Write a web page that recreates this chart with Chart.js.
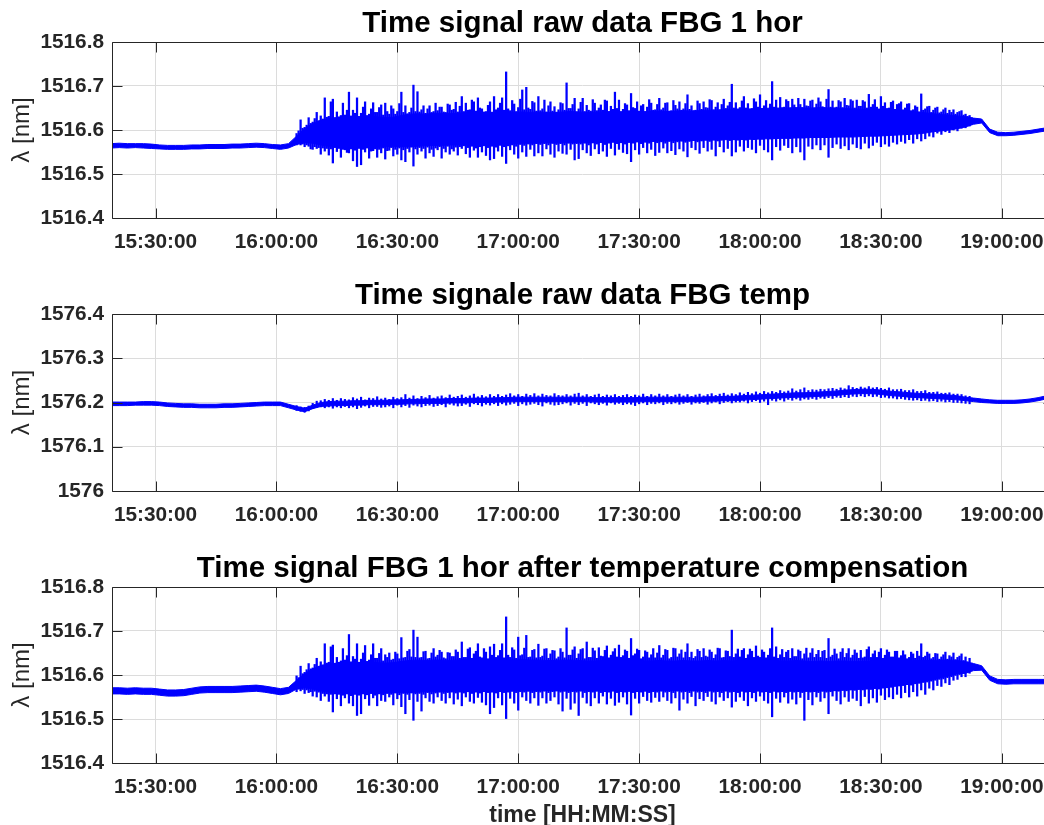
<!DOCTYPE html>
<html>
<head>
<meta charset="utf-8">
<title>FBG time signals</title>
<script src="https://cdn.jsdelivr.net/npm/chart.js@4.4.1/dist/chart.umd.min.js"></script>
<style>
  html, body { margin: 0; padding: 0; background: #fff; }
  body { width: 1044px; height: 825px; overflow: hidden; position: relative; }
  canvas { position: absolute; left: 0; }
</style>
</head>
<body>
<canvas id="hor" width="1060" height="272" style="top:0"></canvas>
<canvas id="temp" width="1060" height="273" style="top:272px"></canvas>
<canvas id="comp" width="1060" height="290" style="top:545px"></canvas>
<script>
// time axis, minutes after midnight
const X_MIN = 919.2, X_MAX = 1152.7;
const TIME_TICKS = [930, 960, 990, 1020, 1050, 1080, 1110, 1140];
const TIME_LABELS = ['15:30:00', '16:00:00', '16:30:00', '17:00:00', '17:30:00', '18:00:00', '18:30:00', '19:00:00'];

const HOR_TICKS = [1516.4, 1516.5, 1516.6, 1516.7, 1516.8];
const TEMP_TICKS = [1576, 1576.1, 1576.2, 1576.3, 1576.4];

// dense trace envelope (upper / lower edge of the solid band), one value every 2 min from 15:19
const BAND_START = 919, BAND_STEP = 2;
// min / max of the samples while the rig is running, from 16:05
const PEAK_START = 965;
const HOR_PEAK_STEP = 0.5;   // half-minute bins for the FBG 1 hor traces
const TEMP_PEAK_STEP = 1;    // one-minute bins for the temperature grating

// all wavelengths below are pm above the base wavelength of the grating

// FBG 1 hor, raw (base 1516 nm)
const horHi = [
  569, 570, 569, 569, 569, 568, 566, 565, 565, 565,
  566, 566, 567, 567, 567, 568, 568, 569, 570, 569,
  567, 566, 569, 586, 603, 615, 622, 626, 628, 630,
  630, 629, 631, 630, 628, 629, 633, 636, 637, 636,
  638, 638, 637, 638, 640, 640, 639, 640, 641, 640,
  640, 641, 640, 641, 640, 640, 641, 642, 641, 640,
  640, 641, 642, 641, 640, 640, 641, 642, 643, 642,
  643, 644, 643, 644, 645, 645, 646, 646, 647, 647,
  648, 649, 650, 649, 650, 651, 650, 650, 651, 650,
  650, 649, 648, 647, 646, 645, 644, 643, 642, 642,
  641, 639, 637, 635, 634, 632, 630, 627, 625, 602,
  595, 594, 595, 597, 599, 602, 605
];
const horLo = [
  559, 560, 559, 560, 559, 558, 557, 556, 556, 556,
  557, 557, 558, 558, 558, 559, 559, 560, 561, 560,
  558, 556, 559, 567, 571, 570, 566, 563, 562, 561,
  560, 561, 562, 561, 562, 563, 562, 562, 563, 564,
  565, 565, 566, 566, 566, 567, 567, 566, 567, 568,
  569, 570, 570, 570, 571, 570, 571, 571, 572, 571,
  571, 572, 573, 573, 572, 573, 574, 574, 575, 575,
  576, 575, 576, 577, 577, 577, 578, 578, 578, 579,
  579, 580, 580, 581, 581, 582, 582, 583, 583, 583,
  584, 584, 584, 585, 586, 586, 587, 588, 589, 590,
  591, 593, 596, 598, 600, 603, 607, 613, 616, 594,
  587, 587, 588, 590, 592, 595, 598
];
// half-minute maxima / minima, one row = 10 minutes
const horPeakHi = [
  592, 598, 623, 604, 606, 611, 628, 615, 618, 626, 640, 621, 632, 625, 673, 629, 631, 664, 670, 628,
  641, 630, 633, 661, 634, 645, 686, 632, 645, 638, 673, 631, 638, 652, 664, 633, 636, 648, 662, 640,
  640, 651, 657, 634, 661, 642, 636, 655, 648, 636, 642, 660, 686, 640, 655, 637, 640, 650, 702, 642,
  687, 641, 646, 655, 638, 648, 655, 640, 642, 661, 644, 652, 652, 641, 640, 659, 657, 645, 647, 663,
  641, 654, 676, 642, 661, 645, 646, 668, 664, 643, 673, 650, 648, 641, 642, 656, 664, 640, 676, 646,
  650, 661, 673, 645, 732, 648, 644, 667, 659, 642, 651, 670, 691, 646, 697, 650, 647, 665, 662, 643,
  676, 644, 648, 668, 641, 655, 664, 643, 653, 640, 646, 662, 660, 645, 707, 649, 649, 658, 672, 641,
  648, 663, 672, 642, 656, 645, 643, 669, 661, 644, 650, 657, 645, 668, 666, 641, 654, 647, 686, 649,
  668, 642, 647, 660, 657, 644, 683, 651, 649, 664, 643, 655, 658, 642, 652, 669, 661, 645, 646, 658,
  672, 646, 650, 661, 662, 643, 644, 667, 656, 648, 664, 645, 648, 660, 680, 647, 655, 644, 645, 666,
  660, 647, 664, 651, 650, 669, 667, 646, 652, 662, 646, 658, 670, 649, 655, 663, 704, 650, 662, 648,
  651, 666, 676, 650, 660, 648, 649, 671, 664, 652, 680, 649, 655, 667, 648, 659, 710, 652, 668, 650,
  674, 651, 652, 669, 665, 650, 670, 657, 650, 672, 658, 651, 670, 655, 654, 666, 668, 650, 659, 673,
  664, 653, 651, 670, 692, 652, 666, 650, 652, 667, 664, 651, 672, 656, 655, 669, 666, 650, 668, 654,
  654, 667, 664, 650, 681, 652, 658, 669, 652, 648, 676, 654, 662, 649, 650, 663, 666, 647, 658, 660,
  664, 646, 650, 659, 660, 644, 646, 655, 652, 641, 682, 645, 648, 653, 654, 640, 645, 650, 652, 639,
  641, 646, 650, 638, 645, 640, 646, 636, 640, 642, 644, 634, 636, 631, 633, 628
];
const horPeakLo = [
  566, 570, 566, 568, 562, 566, 563, 557, 556, 562, 558, 560, 545, 559, 552, 558, 543, 557, 525, 560,
  551, 558, 538, 556, 555, 549, 548, 557, 530, 554, 517, 558, 521, 556, 550, 559, 536, 552, 553, 557,
  538, 556, 548, 559, 534, 553, 554, 560, 541, 556, 545, 559, 532, 555, 528, 558, 550, 561, 518, 557,
  545, 560, 552, 558, 536, 561, 548, 556, 540, 559, 555, 562, 536, 558, 550, 563, 545, 557, 552, 561,
  543, 562, 558, 564, 546, 560, 538, 563, 554, 559, 538, 562, 550, 564, 542, 560, 532, 563, 535, 561,
  552, 565, 540, 562, 524, 564, 555, 566, 545, 563, 536, 567, 550, 565, 540, 568, 556, 566, 541, 569,
  548, 567, 541, 569, 557, 566, 545, 570, 538, 567, 552, 569, 547, 566, 545, 570, 556, 568, 532, 569,
  535, 568, 555, 570, 548, 566, 542, 571, 557, 568, 546, 572, 552, 567, 540, 570, 558, 572, 543, 569,
  556, 571, 549, 568, 546, 572, 528, 570, 555, 573, 545, 569, 560, 572, 548, 570, 556, 574, 542, 571,
  549, 573, 559, 570, 548, 574, 553, 571, 544, 573, 557, 575, 552, 572, 539, 574, 560, 576, 555, 573,
  547, 575, 560, 577, 552, 574, 556, 578, 541, 575, 562, 577, 550, 579, 558, 576, 541, 578, 550, 577,
  563, 579, 552, 577, 560, 580, 556, 578, 548, 581, 565, 579, 555, 582, 550, 580, 532, 581, 562, 583,
  554, 582, 565, 584, 560, 581, 548, 583, 562, 585, 550, 582, 532, 584, 563, 586, 557, 583, 566, 585,
  555, 586, 566, 584, 538, 587, 560, 585, 568, 588, 558, 586, 564, 589, 555, 587, 568, 590, 560, 588,
  557, 589, 570, 591, 559, 588, 565, 590, 572, 592, 562, 589, 568, 591, 563, 593, 572, 590, 568, 592,
  574, 593, 570, 591, 578, 594, 570, 592, 580, 596, 575, 594, 580, 597, 586, 598, 584, 600, 593, 601,
  590, 602, 596, 604, 594, 603, 600, 606, 598, 607, 604, 609, 605, 611, 609, 613
];

// FBG temp, raw (base 1576 nm)
const tempHi = [
  201, 201, 201, 201, 202, 202, 201, 199, 198, 197,
  197, 196, 196, 196, 197, 197, 198, 199, 200, 201,
  201, 201, 196, 191, 187, 194, 200, 202, 203, 203,
  204, 204, 205, 205, 205, 206, 206, 207, 207, 208,
  208, 208, 209, 209, 209, 210, 210, 210, 211, 211,
  212, 212, 212, 212, 212, 212, 212, 212, 212, 212,
  211, 211, 211, 211, 211, 211, 212, 212, 212, 212,
  212, 212, 212, 212, 213, 213, 214, 214, 215, 216,
  217, 218, 219, 220, 221, 222, 222, 223, 224, 225,
  226, 228, 229, 230, 230, 229, 227, 225, 224, 222,
  221, 220, 219, 218, 217, 215, 212, 210, 208, 206,
  205, 205, 205, 206, 208, 211, 215
];
const tempLo = [
  193, 193, 193, 194, 194, 194, 193, 191, 190, 189,
  189, 188, 188, 188, 189, 189, 190, 191, 192, 193,
  193, 193, 188, 183, 179, 186, 191, 192, 193, 193,
  194, 194, 195, 195, 195, 196, 196, 197, 197, 198,
  198, 198, 199, 199, 199, 200, 200, 200, 201, 201,
  202, 202, 202, 202, 202, 202, 202, 202, 202, 202,
  201, 201, 201, 201, 201, 201, 202, 202, 202, 202,
  202, 202, 202, 202, 203, 203, 204, 204, 205, 206,
  207, 208, 209, 210, 211, 212, 212, 213, 214, 215,
  216, 218, 219, 220, 220, 219, 217, 215, 214, 212,
  211, 210, 209, 208, 207, 206, 204, 202, 200, 199,
  198, 198, 198, 199, 201, 204, 208
];
const tempPeakHi = [
  193, 190, 189, 192, 198, 203, 204, 207, 205, 209,
  205, 209, 207, 206, 211, 208, 212, 206, 210, 209,
  213, 208, 210, 207, 212, 209, 211, 218, 210, 215,
  209, 214, 211, 216, 210, 213, 215, 211, 217, 212,
  214, 217, 212, 215, 219, 213, 216, 213, 218, 214,
  218, 214, 217, 220, 215, 218, 214, 219, 216, 220,
  215, 219, 216, 215, 220, 216, 215, 218, 215, 219,
  221, 215, 218, 214, 217, 219, 214, 217, 215, 218,
  214, 216, 218, 214, 217, 215, 219, 214, 218, 215,
  219, 215, 218, 214, 217, 219, 215, 218, 214, 217,
  219, 215, 218, 220, 216, 219, 221, 217, 220, 218,
  222, 219, 223, 220, 224, 221, 225, 222, 225, 223,
  227, 224, 226, 231, 226, 229, 233, 227, 229, 228,
  230, 229, 231, 232, 230, 233, 231, 238, 234, 232,
  235, 233, 236, 233, 234, 232, 230, 233, 229, 229,
  230, 227, 227, 229, 225, 225, 227, 223, 223, 224,
  221, 221, 222, 219, 219, 218, 215, 214
];
const tempPeakLo = [
  182, 180, 178, 181, 186, 189, 190, 188, 190, 187,
  190, 188, 191, 188, 190, 186, 189, 192, 188, 191,
  191, 189, 190, 192, 188, 194, 190, 193, 189, 194,
  192, 190, 193, 194, 191, 193, 195, 190, 196, 194,
  192, 193, 196, 191, 197, 195, 192, 196, 194, 197,
  193, 197, 194, 196, 198, 193, 197, 194, 196, 198,
  195, 192, 199, 196, 194, 195, 197, 199, 194, 198,
  195, 198, 193, 199, 197, 195, 198, 194, 199, 196,
  198, 195, 197, 196, 193, 197, 199, 195, 198, 197,
  199, 195, 198, 197, 199, 196, 198, 200, 196, 199,
  198, 200, 196, 199, 201, 197, 200, 202, 199, 201,
  201, 203, 199, 202, 204, 200, 203, 195, 205, 203,
  206, 203, 207, 205, 208, 205, 208, 207, 209, 207,
  210, 209, 211, 209, 212, 211, 213, 211, 214, 213,
  215, 213, 215, 213, 214, 211, 212, 210, 210, 208,
  209, 207, 206, 205, 206, 204, 205, 203, 204, 202,
  203, 201, 202, 200, 200, 199, 198, 197
];

// FBG 1 hor after temperature compensation (base 1516 nm)
const compHi = [
  571, 571, 570, 571, 570, 570, 568, 566, 566, 567,
  570, 573, 574, 574, 574, 574, 575, 576, 577, 575,
  572, 569, 572, 588, 603, 614, 621, 625, 627, 628,
  628, 627, 629, 628, 627, 628, 631, 633, 634, 633,
  634, 634, 633, 634, 635, 635, 634, 635, 635, 634,
  634, 635, 634, 634, 633, 633, 634, 634, 633, 632,
  632, 633, 633, 632, 631, 631, 632, 632, 633, 632,
  632, 633, 632, 632, 633, 632, 633, 632, 633, 632,
  633, 633, 633, 632, 632, 633, 632, 631, 632, 631,
  632, 632, 631, 631, 631, 631, 631, 631, 631, 632,
  633, 633, 633, 634, 634, 633, 630, 626, 621, 598,
  590, 589, 590, 590, 590, 590, 590
];
const compLo = [
  557, 557, 556, 557, 556, 556, 554, 552, 552, 553,
  556, 559, 560, 560, 560, 560, 561, 562, 563, 561,
  558, 555, 558, 568, 571, 568, 564, 561, 559, 558,
  557, 558, 559, 558, 559, 560, 560, 560, 561, 562,
  562, 562, 563, 563, 562, 563, 563, 562, 563, 563,
  564, 564, 564, 564, 565, 564, 564, 564, 565, 564,
  564, 565, 565, 564, 563, 564, 564, 564, 565, 565,
  565, 564, 565, 565, 565, 564, 565, 565, 564, 565,
  565, 564, 564, 564, 563, 564, 563, 563, 564, 564,
  565, 566, 567, 568, 569, 571, 573, 575, 577, 580,
  582, 586, 590, 594, 598, 603, 604, 610, 611, 588,
  580, 579, 580, 580, 580, 580, 580
];
const compPeakHi = [
  598, 594, 620, 603, 606, 612, 626, 614, 616, 624, 638, 620, 630, 623, 671, 627, 629, 664, 668, 626,
  640, 629, 632, 660, 634, 644, 692, 630, 642, 636, 671, 629, 636, 650, 667, 631, 634, 646, 671, 638,
  638, 649, 660, 632, 646, 640, 650, 634, 636, 652, 648, 637, 685, 639, 640, 654, 658, 641, 702, 640,
  686, 639, 640, 653, 654, 637, 638, 650, 660, 641, 645, 656, 652, 639, 637, 651, 650, 642, 642, 657,
  652, 638, 675, 640, 640, 659, 662, 638, 648, 654, 671, 641, 639, 660, 652, 637, 664, 645, 670, 640,
  644, 656, 671, 639, 732, 645, 640, 662, 657, 638, 686, 644, 646, 661, 690, 640, 641, 656, 658, 639,
  670, 640, 643, 659, 660, 638, 648, 656, 655, 637, 641, 660, 652, 639, 707, 645, 645, 657, 664, 638,
  648, 658, 660, 637, 675, 640, 640, 661, 655, 638, 662, 643, 642, 656, 666, 639, 645, 653, 660, 641,
  668, 640, 644, 657, 654, 638, 683, 644, 648, 659, 656, 637, 641, 655, 652, 639, 646, 660, 639, 650,
  667, 639, 645, 658, 656, 637, 640, 661, 660, 641, 648, 657, 639, 652, 671, 640, 652, 638, 642, 658,
  654, 640, 660, 643, 641, 657, 652, 638, 646, 661, 660, 639, 640, 655, 654, 642, 702, 640, 648, 659,
  641, 656, 660, 638, 646, 659, 654, 640, 666, 643, 640, 657, 652, 639, 645, 660, 707, 641, 664, 638,
  646, 658, 640, 652, 656, 638, 660, 642, 642, 657, 654, 637, 648, 661, 639, 650, 660, 640, 647, 656,
  640, 654, 656, 638, 683, 641, 645, 659, 648, 637, 652, 660, 640, 649, 660, 639, 645, 657, 650, 638,
  656, 639, 641, 658, 664, 640, 648, 655, 640, 652, 660, 638, 645, 657, 652, 641, 641, 654, 654, 639,
  644, 655, 646, 637, 640, 652, 648, 638, 654, 643, 671, 640, 643, 652, 648, 637, 640, 649, 648, 636,
  641, 646, 652, 636, 644, 641, 650, 635, 640, 643, 648, 633, 641, 630, 638, 627
];
const compPeakLo = [
  562, 568, 564, 567, 558, 566, 560, 562, 552, 563, 550, 561, 542, 558, 552, 557, 540, 556, 516, 557,
  546, 556, 530, 554, 548, 557, 536, 553, 530, 556, 508, 554, 512, 557, 546, 555, 531, 558, 548, 554,
  530, 557, 542, 555, 540, 558, 550, 556, 532, 559, 546, 555, 528, 558, 512, 556, 544, 559, 497, 557,
  540, 558, 518, 556, 548, 560, 540, 557, 536, 559, 550, 561, 542, 558, 536, 560, 548, 561, 534, 559,
  545, 561, 530, 559, 550, 562, 540, 558, 536, 561, 549, 559, 538, 562, 532, 560, 512, 561, 526, 559,
  548, 562, 532, 560, 501, 561, 547, 563, 536, 560, 520, 562, 550, 561, 542, 563, 536, 560, 548, 562,
  531, 561, 548, 563, 536, 560, 542, 562, 550, 564, 534, 561, 518, 563, 547, 560, 522, 562, 536, 561,
  508, 563, 549, 560, 536, 562, 530, 561, 548, 563, 536, 560, 552, 562, 534, 561, 547, 563, 531, 560,
  538, 562, 550, 561, 534, 563, 509, 560, 547, 562, 536, 561, 551, 563, 542, 560, 538, 562, 549, 561,
  540, 563, 550, 561, 542, 562, 536, 560, 548, 563, 520, 561, 545, 562, 536, 560, 551, 563, 530, 561,
  546, 562, 542, 560, 551, 563, 540, 561, 534, 562, 550, 560, 542, 563, 548, 561, 527, 562, 540, 560,
  550, 563, 542, 561, 530, 562, 548, 560, 540, 563, 552, 561, 542, 562, 536, 560, 505, 563, 547, 561,
  538, 562, 550, 560, 536, 563, 545, 561, 534, 562, 549, 560, 497, 563, 544, 561, 532, 562, 550, 560,
  540, 563, 548, 561, 512, 562, 552, 564, 542, 563, 534, 565, 550, 564, 540, 566, 547, 565, 542, 567,
  530, 566, 551, 568, 536, 567, 548, 569, 538, 568, 554, 570, 544, 571, 550, 572, 546, 574, 556, 575,
  548, 576, 560, 578, 550, 577, 562, 580, 552, 581, 566, 583, 556, 584, 570, 586, 566, 588, 576, 590,
  574, 591, 582, 594, 578, 596, 588, 599, 590, 601, 596, 604, 596, 606, 604, 610
];

const FONT = "'Liberation Sans', Arial, Helvetica, sans-serif";
const BLUE = '#0000ff';
const INK = '#262626';
const GRID = '#dcdcdc';
Chart.defaults.font.family = FONT;

// MATLAB-style box: full frame plus inward tick marks on all four sides
const boxTicks = {
  id: 'boxTicks',
  afterDraw(chart) {
    const { ctx, chartArea: a, scales: { x, y } } = chart;
    const len = 10;
    const L = Math.round(a.left) + 0.5, R = Math.round(a.right) + 0.5;
    const T = Math.round(a.top) + 0.5, B = Math.round(a.bottom) + 0.5;
    ctx.save();
    ctx.strokeStyle = INK;
    ctx.lineWidth = 1;
    ctx.beginPath();
    x.ticks.forEach(t => {
      const px = Math.round(x.getPixelForValue(t.value)) + 0.5;
      ctx.moveTo(px, T); ctx.lineTo(px, T + len);
      ctx.moveTo(px, B); ctx.lineTo(px, B - len);
    });
    y.ticks.forEach(t => {
      const py = Math.round(y.getPixelForValue(t.value)) + 0.5;
      ctx.moveTo(L, py); ctx.lineTo(L + len, py);
      ctx.moveTo(R, py); ctx.lineTo(R - len, py);
    });
    ctx.rect(L, T, R - L, B - T);
    ctx.stroke();
    ctx.restore();
  }
};

function drawPanel(id, p) {
  const nm = v => p.base + v / 1000;
  const band = arr => arr.map((v, i) => ({ x: BAND_START + i * BAND_STEP, y: nm(v) }));
  const peaks = p.peakHi.map((v, i) => ({ x: PEAK_START + i * p.peakStep, y: [nm(p.peakLo[i]), nm(v)] }));

  new Chart(document.getElementById(id), {
    type: 'line',
    data: {
      datasets: [
        { type: 'bar', data: peaks, backgroundColor: BLUE, borderWidth: 0, barThickness: p.barWidth },
        { data: band(p.hi), borderColor: BLUE, backgroundColor: BLUE, borderWidth: 1,
          pointRadius: 0, tension: 0, fill: '+1' },
        { data: band(p.lo), borderColor: BLUE, borderWidth: 1, pointRadius: 0, tension: 0, fill: false }
      ]
    },
    options: {
      responsive: false,
      animation: false,
      devicePixelRatio: 1,
      events: [],
      layout: { padding: { left: 0, right: 7, top: 0, bottom: 0 } },
      plugins: {
        legend: { display: false },
        tooltip: { enabled: false },
        title: {
          display: true, text: p.title, color: '#000', fullSize: false,
          font: { size: 29.5, weight: 'bold', lineHeight: 1.2 },
          padding: { top: 6.6, bottom: 0 }
        }
      },
      scales: {
        x: {
          type: 'linear', min: X_MIN, max: X_MAX, offset: false,
          afterBuildTicks: s => { s.ticks = TIME_TICKS.map(v => ({ value: v })); },
          afterFit: s => { s.height = p.xHeight; },
          grid: { color: GRID, lineWidth: 1, drawTicks: false, offset: false },
          border: { display: false },
          ticks: {
            color: INK, padding: 12, maxRotation: 0, autoSkip: false,
            font: { size: 20.8, weight: 'bold' },
            callback: (v, i) => TIME_LABELS[i]
          },
          title: p.xTitle ? {
            display: true, text: p.xTitle, color: INK,
            font: { size: 23, weight: 'bold', lineHeight: 1.2 },
            padding: { top: 0, bottom: 6 }
          } : { display: false }
        },
        y: {
          min: p.ticks[0], max: p.ticks[p.ticks.length - 1],
          afterBuildTicks: s => { s.ticks = p.ticks.map(v => ({ value: v })); },
          afterFit: s => { s.width = 112; },
          grid: { color: GRID, lineWidth: 1, drawTicks: false },
          border: { display: false },
          ticks: {
            color: INK, padding: 8,
            font: { size: 20.8, weight: 'bold' },
            callback: v => String(v)
          },
          title: {
            display: true, text: 'λ [nm]', color: INK,
            font: { size: 24, weight: 'normal', lineHeight: 1.2 },
            padding: { top: 7.5, bottom: 0 }
          }
        }
      }
    },
    plugins: [boxTicks]
  });
}

drawPanel('hor', {
  title: 'Time signal raw data FBG 1 hor', base: 1516, ticks: HOR_TICKS, xHeight: 54,
  hi: horHi, lo: horLo, peakHi: horPeakHi, peakLo: horPeakLo,
  peakStep: HOR_PEAK_STEP, barWidth: 1.6
});
drawPanel('temp', {
  title: 'Time signale raw data FBG temp', base: 1576, ticks: TEMP_TICKS, xHeight: 54,
  hi: tempHi, lo: tempLo, peakHi: tempPeakHi, peakLo: tempPeakLo,
  peakStep: TEMP_PEAK_STEP, barWidth: 1.5
});
drawPanel('comp', {
  title: 'Time signal FBG 1 hor after temperature compensation', base: 1516, ticks: HOR_TICKS, xHeight: 72,
  xTitle: 'time [HH:MM:SS]',
  hi: compHi, lo: compLo, peakHi: compPeakHi, peakLo: compPeakLo,
  peakStep: HOR_PEAK_STEP, barWidth: 1.6
});
</script>
</body>
</html>
